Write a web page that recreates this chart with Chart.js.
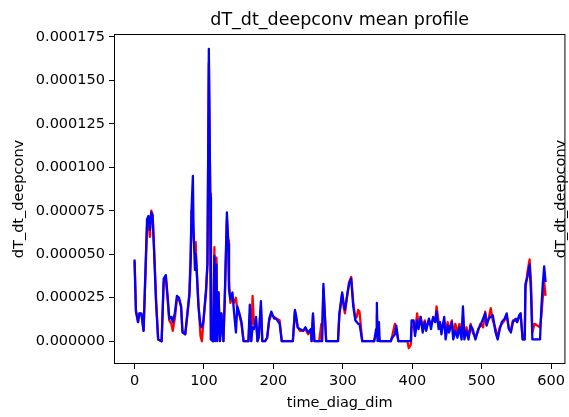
<!DOCTYPE html>
<html lang="en">
<head>
<meta charset="UTF-8">
<title>dT_dt_deepconv mean profile</title>
<script src="https://cdn.jsdelivr.net/npm/chart.js@4.4.0/dist/chart.umd.min.js"></script>
<style>
    html, body { margin: 0; padding: 0; background: #fff; }
    #wrap { width: 569px; height: 417px; }
</style>
</head>
<body>
<div id="wrap"><canvas id="profileChart" width="569" height="417"></canvas></div>
<script>
// time_diag_dim index of each sample
const timeIndex = [
    0, 2, 5, 7, 10, 13, 18, 20, 22, 24, 26, 28, 31, 34, 39, 42, 45, 48, 50, 53,
    55, 58, 61, 64, 67, 69, 73, 76, 79, 81, 82, 84, 85, 87, 88, 89, 92, 95, 97, 99,
    103, 105, 107, 109, 110, 113, 115, 116, 118, 119, 121, 123, 125, 128, 130, 133, 135, 136, 138, 141,
    143, 146, 148, 151, 154, 157, 164, 166, 168, 170, 172, 175, 177, 179, 182, 184, 188, 191, 194, 197,
    201, 204, 209, 212, 228, 231, 233, 235, 238, 243, 246, 250, 254, 255, 257, 259, 266, 269, 270, 272,
    274, 276, 293, 295, 299, 301, 303, 306, 309, 312, 315, 318, 320, 322, 324, 328, 345, 348, 349, 350,
    352, 353, 369, 371, 375, 377, 380, 393, 395, 398, 399, 402, 404, 407, 409, 412, 415, 418, 420, 424,
    427, 430, 433, 435, 438, 440, 442, 446, 448, 451, 453, 457, 459, 462, 465, 468, 471, 473, 475, 478,
    481, 484, 487, 491, 495, 498, 502, 505, 507, 510, 513, 516, 520, 523, 526, 529, 533, 536, 539, 542,
    545, 549, 551, 554, 556, 559, 562, 563, 566, 569, 571, 573, 576, 584, 586, 588, 590, 592
];

// mean dT_dt_deepconv, in units of 1e-6
const blueProfile = [
    47, 17, 11, 16, 16, 6, 70, 72, 64, 74, 72, 53, 22, 1, 0, 36, 38, 24, 13, 14,
    11, 16, 26, 25, 20, 5, 4, 15, 26, 47, 75, 95, 64, 41, 50, 45, 20, 9, 8, 11,
    30, 45, 168, 83, 1, 0, 49, 0, 44, 0, 28, 0, 16, 0, 26, 74, 56, 30, 24, 28,
    18, 5, 20, 16, 11, 0, 0, 21, 0, 8, 7, 14, 0, 2, 23, 0, 0, 2, 13, 17,
    13, 13, 10, 0, 0, 18, 14, 8, 7, 6, 8, 5, 7, 0, 16, 0, 0, 0, 0, 33,
    16, 0, 0, 16, 28, 22, 18, 26, 33, 36, 20, 12, 11, 10, 10, 0, 0, 7, 22, 0,
    11, 0, 0, 2, 4, 9, 0, 0, 0, 0, 12, 12, 3, 12, 7, 14, 5, 11, 6, 13,
    7, 14, 11, 17, 7, 11, 4, 14, 1, 9, 5, 11, 1, 6, 2, 8, 1, 20, 1, 6,
    1, 9, 7, 1, 7, 9, 13, 16, 9, 13, 14, 15, 5, 1, 7, 11, 13, 16, 7, 5,
    11, 13, 11, 15, 16, 1, 1, 33, 37, 44, 28, 1, 1, 1, 20, 33, 43, 34
];

const redProfile = [
    46, 18, 11, 16, 15, 6, 66, 70, 60, 75, 73, 55, 24, 1, 0, 34, 37, 22, 12, 10,
    6, 13, 24, 24, 20, 6, 4, 16, 28, 55, 75, 70, 60, 50, 57, 45, 22, 3, 0, 10,
    28, 44, 160, 85, 1, 0, 54, 5, 48, 10, 28, 0, 16, 0, 24, 70, 58, 35, 22, 25,
    22, 25, 18, 15, 10, 0, 0, 15, 0, 26, 10, 12, 0, 5, 20, 0, 0, 2, 12, 15,
    14, 13, 12, 0, 0, 17, 12, 8, 6, 6, 7, 4, 6, 0, 15, 0, 0, 10, 0, 30,
    15, 0, 0, 15, 27, 20, 16, 25, 34, 37, 22, 13, 14, 18, 17, 0, 0, 4, 15, 2,
    3, 0, 0, 3, 10, 6, 0, 0, -4, -2, 8, 9, 5, 16, 10, 14, 8, 12, 8, 12,
    10, 13, 11, 20, 11, 10, 7, 12, 5, 11, 6, 12, 4, 10, 5, 10, 3, 15, 3, 8,
    2, 10, 5, 2, 6, 10, 8, 17, 10, 13, 19, 12, 7, 2, 8, 10, 12, 15, 8, 6,
    12, 12, 11, 14, 16, 1, 1, 30, 40, 47, 34, 5, 10, 8, 15, 25, 34, 26
];

const xTicks = [0, 100, 200, 300, 400, 500, 600];
const yTicks = [0, 0.000025, 0.00005, 0.000075, 0.0001, 0.000125, 0.00015, 0.000175];

const FONT = "'DejaVu Sans', sans-serif";
const toPoints = vals => vals.map((v, i) => ({ x: timeIndex[i], y: v * 1e-6 }));

// title, axis labels and the box around the axes
const decorations = {
    id: 'decorations',
    afterDraw(chart) {
        const { ctx, chartArea: a } = chart;
        ctx.save();
        ctx.strokeStyle = '#000';
        ctx.lineWidth = 1;
        ctx.strokeRect(a.left + 0.5, a.top + 0.5, a.right - a.left - 1, a.bottom - a.top - 1);

        ctx.fillStyle = '#000';
        ctx.textAlign = 'center';
        ctx.textBaseline = 'middle';
        const cx = (a.left + a.right) / 2;
        const cy = (a.top + a.bottom) / 2;

        ctx.font = '17.5px ' + FONT;
        ctx.fillText('dT_dt_deepconv mean profile', cx, 20);

        ctx.font = '14.5px ' + FONT;
        ctx.fillText('time_diag_dim', cx, 403);

        ctx.save();
        ctx.translate(19, cy);
        ctx.rotate(-Math.PI / 2);
        ctx.fillText('dT_dt_deepconv', 0, 0);
        ctx.restore();

        ctx.save();
        ctx.translate(561, cy);
        ctx.rotate(-Math.PI / 2);
        ctx.fillText('dT_dt_deepconv', 0, 0);
        ctx.restore();
        ctx.restore();
    }
};

new Chart(document.getElementById('profileChart'), {
    type: 'line',
    data: {
        datasets: [
            {
                label: 'blue',
                data: toPoints(blueProfile),
                borderColor: '#0000ff',
                borderWidth: 2.3,
                order: 0
            },
            {
                label: 'red',
                data: toPoints(redProfile),
                borderColor: '#ff0000',
                borderWidth: 2.3,
                order: 1
            }
        ]
    },
    options: {
        responsive: false,
        animation: false,
        layout: { padding: { left: 0, right: 1, top: 34, bottom: 0 } },
        elements: {
            point: { radius: 0 },
            line: { tension: 0, borderJoinStyle: 'round', fill: false }
        },
        plugins: {
            legend: { display: false },
            tooltip: { enabled: false }
        },
        scales: {
            x: {
                type: 'linear',
                min: -29.6,
                max: 620.6,
                afterFit: s => { s.height = 53; },
                afterBuildTicks: s => { s.ticks = xTicks.map(v => ({ value: v })); },
                grid: { drawOnChartArea: false, drawTicks: true, tickLength: 5, color: '#000' },
                border: { display: false },
                ticks: {
                    autoSkip: false,
                    maxRotation: 0,
                    padding: 4,
                    color: '#000',
                    font: { family: FONT, size: 14.5 },
                    callback: v => String(v)
                }
            },
            y: {
                type: 'linear',
                min: -0.0000131,
                max: 0.0001766,
                afterFit: s => { s.width = 114; },
                afterBuildTicks: s => { s.ticks = yTicks.map(v => ({ value: v })); },
                grid: { drawOnChartArea: false, drawTicks: true, tickLength: 5, color: '#000' },
                border: { display: false },
                ticks: {
                    autoSkip: false,
                    padding: 4,
                    color: '#000',
                    font: { family: FONT, size: 14.5 },
                    callback: v => v.toFixed(6)
                }
            }
        }
    },
    plugins: [decorations]
});
</script>
</body>
</html>
